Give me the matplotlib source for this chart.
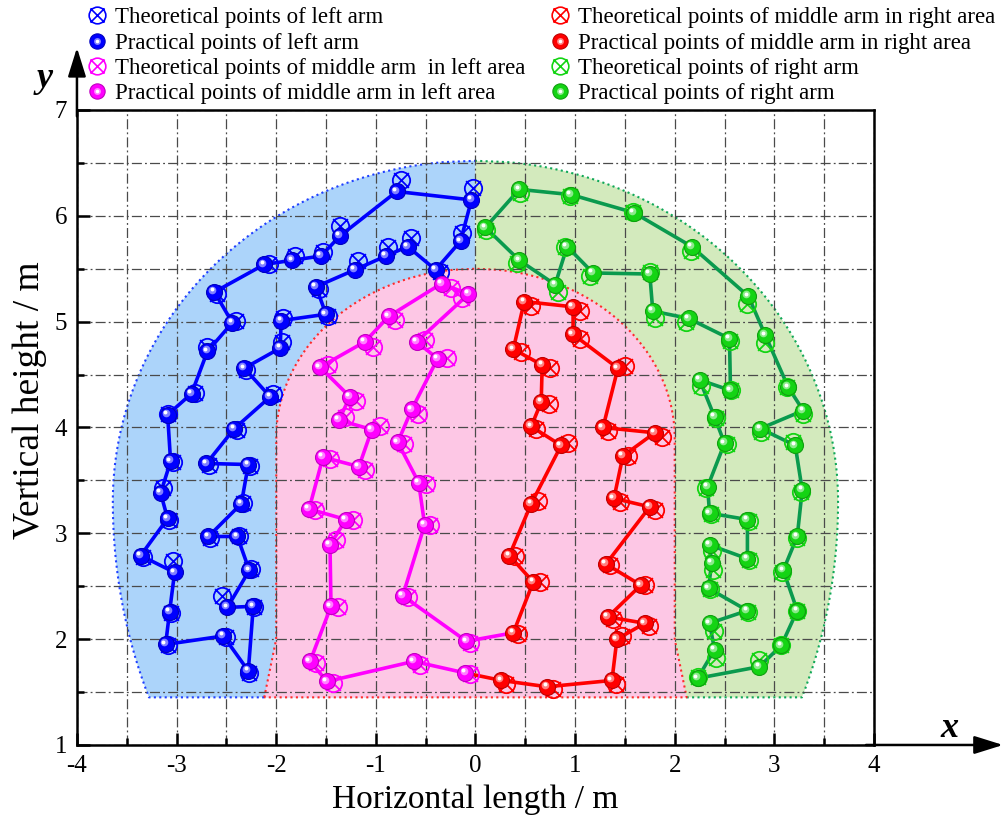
import numpy as np
import matplotlib
matplotlib.use("Agg")
import matplotlib.pyplot as plt
from matplotlib.path import Path
from matplotlib.markers import MarkerStyle
from matplotlib.lines import Line2D
from matplotlib.transforms import offset_copy
from matplotlib.legend_handler import HandlerTuple

plt.rcParams["font.family"] = "serif"
plt.rcParams["font.serif"] = ["Liberation Serif", "DejaVu Serif"]
plt.rcParams["axes.unicode_minus"] = False

# ---------------- data ----------------
X_TICKS = [-4, -3, -2, -1, 0, 1, 2, 3, 4]
X_TICK_LABELS = ["-4", "-3", "-2", "-1", "0", "1", "2", "3", "4"]
Y_TICKS = [1, 2, 3, 4, 5, 6, 7]
Y_TICK_LABELS = ["1", "2", "3", "4", "5", "6", "7"]

# left arm (closed loop of practical points and matching theoretical points)
LEFT_X = [-2.28, -2.53, -3.11, -3.07, -3.02, -3.36, -3.09, -3.16, -3.06, -3.09,
          -2.85, -2.69, -2.44, -2.62, -2.12, -1.84, -1.55, -1.36, -0.79, -0.04,
          -0.15, -0.40, -0.68, -0.90, -1.21, -1.60, -1.50, -1.95, -1.96, -2.32,
          -2.06, -2.42, -2.70, -2.28, -2.35, -2.68, -2.39, -2.27, -2.49, -2.23]
LEFT_Y = [1.70, 2.03, 1.95, 2.26, 2.63, 2.79, 3.14, 3.38, 3.68, 4.12,
          4.32, 4.72, 4.99, 5.28, 5.54, 5.58, 5.62, 5.81, 6.23, 6.15,
          5.76, 5.49, 5.71, 5.62, 5.49, 5.33, 5.07, 5.01, 4.75, 4.56,
          4.29, 3.99, 3.66, 3.65, 3.28, 2.97, 2.97, 2.65, 2.30, 2.31]
LEFT_TX = [-2.27, -2.50, -3.09, -3.06, -3.04, -3.34, -3.08, -3.14, -3.04, -3.09,
           -2.82, -2.69, -2.40, -2.59, -2.07, -1.81, -1.53, -1.36, -0.75, -0.02,
           -0.14, -0.36, -0.65, -0.88, -1.18, -1.57, -1.48, -1.93, -1.94, -2.30,
           -2.03, -2.39, -2.67, -2.26, -2.33, -2.66, -2.37, -2.25, -2.54, -2.22]
LEFT_TY = [1.68, 2.02, 1.94, 2.25, 2.74, 2.78, 3.13, 3.43, 3.67, 4.13,
           4.33, 4.76, 5.01, 5.26, 5.54, 5.62, 5.66, 5.90, 6.34, 6.26,
           5.84, 5.47, 5.79, 5.71, 5.57, 5.31, 5.05, 5.03, 4.81, 4.54,
           4.32, 3.98, 3.65, 3.64, 3.29, 2.96, 2.97, 2.66, 2.41, 2.30]

# middle arm, left area
MIDL_X = [-0.09, -0.73, -0.51, -0.57, -0.78, -0.64, -0.38, -0.59, -0.07, -0.34,
          -0.87, -1.11, -1.56, -1.26, -1.37, -1.04, -1.17, -1.53, -1.67, -1.30,
          -1.46, -1.45, -1.66, -1.49, -0.62, -0.10]
MIDL_Y = [1.98, 2.41, 3.08, 3.48, 3.86, 4.17, 4.65, 4.81, 5.26, 5.36,
          5.05, 4.81, 4.57, 4.29, 4.07, 3.98, 3.63, 3.72, 3.23, 3.13,
          2.89, 2.31, 1.79, 1.60, 1.79, 1.68]
MIDL_TX = [-0.05, -0.68, -0.46, -0.50, -0.72, -0.58, -0.29, -0.51, -0.14, -0.25,
           -0.81, -1.03, -1.48, -1.20, -1.31, -0.96, -1.11, -1.46, -1.61, -1.23,
           -1.40, -1.38, -1.60, -1.43, -0.56, -0.05]
MIDL_TY = [1.96, 2.40, 3.08, 3.47, 3.84, 4.13, 4.66, 4.83, 5.22, 5.32,
           5.02, 4.76, 4.59, 4.25, 4.10, 4.01, 3.60, 3.70, 3.22, 3.13,
           2.94, 2.30, 1.77, 1.59, 1.76, 1.67]

# middle arm, right area
MIDR_X = [0.26, 0.72, 1.37, 1.42, 1.70, 1.33, 1.66, 1.31, 1.75, 1.39,
          1.48, 1.80, 1.28, 1.43, 0.98, 0.98, 0.49, 0.38, 0.67, 0.66,
          0.56, 0.86, 0.56, 0.34, 0.58, 0.38]
MIDR_Y = [1.61, 1.55, 1.61, 2.00, 2.15, 2.21, 2.51, 2.71, 3.25, 3.33,
          3.73, 3.95, 4.00, 4.56, 4.88, 5.14, 5.19, 4.74, 4.59, 4.24,
          4.01, 3.83, 3.28, 2.79, 2.54, 2.06]
MIDR_TX = [0.31, 0.78, 1.41, 1.47, 1.74, 1.38, 1.70, 1.35, 1.80, 1.45,
           1.53, 1.87, 1.33, 1.50, 1.05, 1.05, 0.56, 0.46, 0.75, 0.74,
           0.61, 0.93, 0.63, 0.40, 0.65, 0.43]
MIDR_TY = [1.58, 1.53, 1.58, 2.03, 2.12, 2.19, 2.51, 2.70, 3.22, 3.30,
           3.73, 3.91, 3.97, 4.58, 4.84, 5.10, 5.15, 4.71, 4.56, 4.22,
           3.99, 3.85, 3.31, 2.79, 2.54, 2.05]

# right arm (closed loop)
RIGHT_X = [0.80, 0.44, 0.10, 0.44, 0.96, 1.59, 2.17, 2.74, 2.91, 3.14,
           3.29, 2.86, 3.21, 3.28, 3.23, 3.09, 3.23, 3.07, 2.85, 2.23,
           2.40, 2.35, 2.73, 2.34, 2.37, 2.35, 2.73, 2.73, 2.35, 2.33,
           2.50, 2.40, 2.25, 2.56, 2.55, 2.14, 1.78, 1.75, 1.18, 0.92]
RIGHT_Y = [5.35, 5.58, 5.89, 6.25, 6.20, 6.03, 5.71, 5.24, 4.87, 4.38,
           4.16, 3.99, 3.83, 3.41, 2.97, 2.65, 2.27, 1.94, 1.74, 1.63,
           1.90, 2.15, 2.27, 2.48, 2.72, 2.89, 2.76, 3.13, 3.19, 3.44,
           3.85, 4.10, 4.45, 4.35, 4.84, 5.03, 5.10, 5.45, 5.46, 5.71]
RIGHT_TX = [0.83, 0.42, 0.11, 0.45, 0.95, 1.58, 2.16, 2.73, 2.91, 3.13,
            3.29, 2.87, 3.19, 3.27, 3.23, 3.08, 3.23, 3.07, 2.85, 2.23,
            2.41, 2.39, 2.74, 2.35, 2.38, 2.37, 2.75, 2.75, 2.36, 2.31,
            2.52, 2.41, 2.26, 2.57, 2.56, 2.11, 1.80, 1.75, 1.15, 0.90]
RIGHT_TY = [5.28, 5.55, 5.87, 6.22, 6.19, 6.04, 5.67, 5.17, 4.80, 4.38,
            4.13, 3.96, 3.86, 3.39, 2.96, 2.63, 2.27, 1.94, 1.80, 1.64,
            1.82, 2.08, 2.26, 2.47, 2.65, 2.83, 2.75, 3.12, 3.18, 3.43,
            3.84, 4.09, 4.39, 4.35, 4.82, 5.00, 5.03, 5.47, 5.43, 5.71]

LABELS_LEFT_COL = ["Theoretical points of left arm",
                   "Practical points of left arm",
                   "Theoretical points of middle arm  in left area",
                   "Practical points of middle arm in left area"]
LABELS_RIGHT_COL = ["Theoretical points of middle arm in right area",
                    "Practical points of middle arm in right area",
                    "Theoretical points of right arm",
                    "Practical points of right arm"]

# workspace outlines (half-ellipse parameters, metres)
BASE_Y = 1.45
OUT_A, OUT_YC, OUT_B_UP, OUT_B_LOW = 3.64, 3.30, 3.22, 4.25
IN_A, IN_YC, IN_B_UP, IN_KNEE_Y, IN_BASE_A = 2.0, 3.90, 1.60, 2.0, 2.12

# ---------------- styling ----------------
BLUE, MAGENTA, RED, GREEN = "#0000ff", "#ff00ff", "#ff0000", "#14d414"
GREEN_LINE = "#0a9a4e"
FILL_BLUE, FILL_PINK, FILL_GREEN = "#acd4fa", "#fdc7e5", "#d3eabd"

fig = plt.figure(figsize=(10.02, 8.22), dpi=100)
ax = fig.add_axes([0.0768, 0.0937, 0.7954, 0.7725])
ax.set_xlim(-4, 4)
ax.set_ylim(1, 7)


def outer_x(y):
    b = np.where(y >= OUT_YC, OUT_B_UP, OUT_B_LOW)
    t = np.clip((y - OUT_YC) / b, -1, 1)
    return OUT_A * np.sqrt(1 - t ** 2)


def inner_x(y):
    t = np.clip((y - IN_YC) / IN_B_UP, 0, 1)
    upper = IN_A * np.sqrt(1 - t ** 2)
    lower = np.interp(y, [BASE_Y, IN_KNEE_Y], [IN_BASE_A, IN_A])
    return np.where(y >= IN_KNEE_Y, upper, lower)


ys_out = np.linspace(BASE_Y, OUT_YC + OUT_B_UP, 400)
xo = outer_x(ys_out)
ys_in = np.linspace(BASE_Y, IN_YC + IN_B_UP, 400)
xi = inner_x(ys_in)
top_out = OUT_YC + OUT_B_UP

ax.fill(np.r_[-xo, 0, 0], np.r_[ys_out, top_out, BASE_Y], color=FILL_BLUE, lw=0, zorder=0.2)
ax.fill(np.r_[xo, 0, 0], np.r_[ys_out, top_out, BASE_Y], color=FILL_GREEN, lw=0, zorder=0.2)
ax.fill(np.r_[-xi, xi[::-1]], np.r_[ys_in, ys_in[::-1]], color=FILL_PINK, lw=0, zorder=0.3)

dots = (0, (1.0, 1.6))
ax.plot(np.r_[-IN_BASE_A, -xo], np.r_[BASE_Y, ys_out], color="#2040ff", lw=1.5, ls=dots, zorder=0.6)
ax.plot(np.r_[IN_BASE_A, xo], np.r_[BASE_Y, ys_out], color="#10a858", lw=1.5, ls=dots, zorder=0.6)
ax.plot(np.r_[-xi, xi[::-1], -xi[0]], np.r_[ys_in, ys_in[::-1], BASE_Y],
        color="#ff2a2a", lw=1.5, ls=dots, zorder=0.6)

# grid, ticks, spines
ax.set_xticks(X_TICKS)
ax.set_xticklabels(X_TICK_LABELS)
ax.set_yticks(Y_TICKS)
ax.set_yticklabels(Y_TICK_LABELS)
ax.set_xticks(np.arange(-3.5, 4, 1.0), minor=True)
ax.set_yticks(np.arange(1.5, 7, 1.0), minor=True)
ax.set_axisbelow("line")
ax.grid(which="both", color="#4a4a4a", lw=0.9, ls=(0, (8, 2.5, 1.5, 2.5)))
ax.tick_params(which="major", direction="in", length=9, width=1.8, labelsize=18, pad=7)
ax.tick_params(which="minor", direction="in", length=5, width=1.8)
for s in ax.spines.values():
    s.set_linewidth(1.8)
    s.set_color("black")

# theoretical marker: circle with a cross
_circ = Path.unit_circle()
_x1 = Path([(-0.85, -0.85), (0.85, 0.85)], [Path.MOVETO, Path.LINETO])
_x2 = Path([(-0.85, 0.85), (0.85, -0.85)], [Path.MOVETO, Path.LINETO])
THEO_MARKER = MarkerStyle(Path.make_compound_path(_circ, _x1, _x2))


def lighten(color, f):
    c = np.array(matplotlib.colors.to_rgb(color))
    return tuple(c + (1 - c) * f)


def darken(color, f):
    c = np.array(matplotlib.colors.to_rgb(color))
    return tuple(c * (1 - f))


def sphere(xs, ys, color):
    ax.plot(xs, ys, ls="none", marker="o", ms=11.5, mfc=color, mec=darken(color, 0.25),
            mew=0.8, zorder=5)
    tr1 = offset_copy(ax.transData, fig=fig, x=-1.4, y=1.4, units="points")
    ax.plot(xs, ys, ls="none", marker="o", ms=5.5, mfc=lighten(color, 0.5), mec="none",
            zorder=6, transform=tr1)
    tr2 = offset_copy(ax.transData, fig=fig, x=-1.9, y=1.9, units="points")
    ax.plot(xs, ys, ls="none", marker="o", ms=2.8, mfc="white", mec="none",
            zorder=7, transform=tr2)


def draw_arm(px, py, tx, ty, lx, ly, color, line_color):
    ax.plot(lx, ly, color=line_color, lw=2.6, zorder=3, solid_joinstyle="round")
    ax.plot(tx, ty, ls="none", marker=THEO_MARKER, ms=12.5, mfc="none", mec=color,
            mew=1.3, zorder=4)
    sphere(px, py, color)


draw_arm(LEFT_X, LEFT_Y, LEFT_TX, LEFT_TY,
         LEFT_X + LEFT_X[:1], LEFT_Y + LEFT_Y[:1], BLUE, BLUE)
draw_arm(MIDL_X, MIDL_Y, MIDL_TX, MIDL_TY,
         MIDR_X[-1:] + MIDL_X, MIDR_Y[-1:] + MIDL_Y, MAGENTA, MAGENTA)
draw_arm(MIDR_X, MIDR_Y, MIDR_TX, MIDR_TY,
         MIDL_X[-1:] + MIDR_X, MIDL_Y[-1:] + MIDR_Y, RED, RED)
draw_arm(RIGHT_X, RIGHT_Y, RIGHT_TX, RIGHT_TY,
         RIGHT_X + RIGHT_X[:1], RIGHT_Y + RIGHT_Y[:1], GREEN, GREEN_LINE)

# axis arrows
arrow_kw = dict(arrowstyle="-|>,head_length=0.8,head_width=0.25", lw=1.8, color="black",
                mutation_scale=22, shrinkA=0, shrinkB=0)
ax.annotate("", xy=(0, 1.098), xytext=(0, 0.99), xycoords="axes fraction",
            arrowprops=arrow_kw, annotation_clip=False)
ax.annotate("", xy=(1.162, 0), xytext=(0.99, 0), xycoords="axes fraction",
            arrowprops=arrow_kw, annotation_clip=False)

fig.text(0.948, 0.114, "x", fontsize=26, style="italic", weight="bold", ha="center", va="center")
fig.text(0.045, 0.905, "y", fontsize=26, style="italic", weight="bold", ha="center", va="center")
fig.text(0.474, 0.027, "Horizontal length / m", fontsize=24, ha="center", va="center")
fig.text(0.030, 0.513, "Vertical height / m", fontsize=27, rotation=90, ha="center", va="center")


# legend
def theo_handle(color):
    return Line2D([], [], ls="none", marker=THEO_MARKER, ms=12, mfc="none", mec=color, mew=1.2)


def prac_handle(color):
    return (Line2D([], [], ls="none", marker="o", ms=11, mfc=color, mec=darken(color, 0.25), mew=0.8),
            Line2D([], [], ls="none", marker="o", ms=5, mfc=lighten(color, 0.5), mec="none"),
            Line2D([], [], ls="none", marker="o", ms=2.6, mfc="white", mec="none"))


leg_kw = dict(loc="upper left", bbox_transform=fig.transFigure, frameon=False, fontsize=16.5,
              handlelength=1.0, handletextpad=0.3, labelspacing=0.18, borderaxespad=0,
              borderpad=0, handler_map={tuple: HandlerTuple(ndivide=1)})
fig.legend([theo_handle(BLUE), prac_handle(BLUE), theo_handle(MAGENTA), prac_handle(MAGENTA)],
           LABELS_LEFT_COL, bbox_to_anchor=(0.085, 0.991), **leg_kw)
fig.legend([theo_handle(RED), prac_handle(RED), theo_handle(GREEN), prac_handle(GREEN)],
           LABELS_RIGHT_COL, bbox_to_anchor=(0.547, 0.991), **leg_kw)

fig.savefig("out.png", dpi=100)
